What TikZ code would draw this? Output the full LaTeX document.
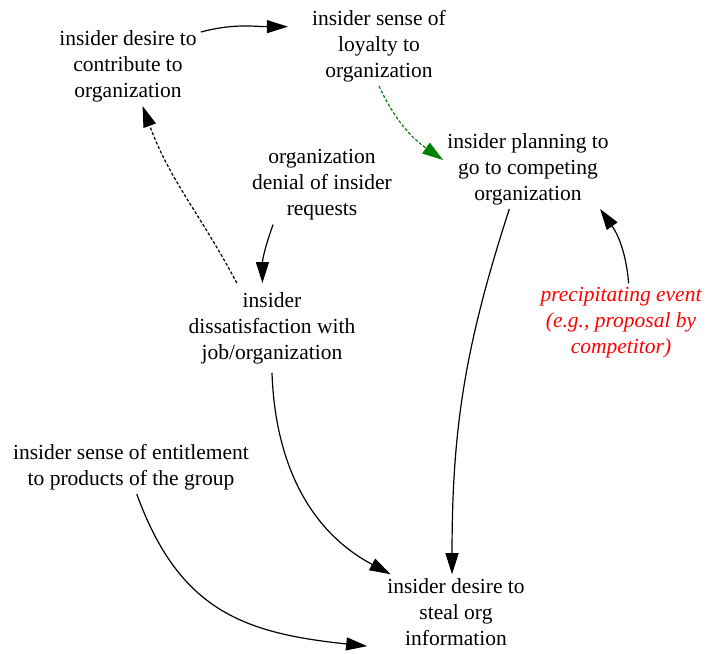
\documentclass[tikz,border=0pt]{standalone}
\usepackage{fontspec}
\setmainfont{Liberation Serif}
\usetikzlibrary{arrows.meta}
\definecolor{dkgreen}{RGB}{0,128,0}

\begin{document}
\begin{tikzpicture}[x=1pt,y=-1pt,>={Triangle[length=21pt,width=13pt]}]

        \useasboundingbox (0,0) rectangle (713,654);

        \begin{scope}[every node/.style={align=center, inner sep=4pt, font=\fontsize{21.5}{26}\selectfont}]
          \node (contrib)  at (128,66)  {insider desire to\\contribute to\\organization};
          \node[inner xsep=24pt] (loyalty) at (379,46) {insider sense of\\loyalty to\\organization};
          \node (plan)     at (528,169) {insider planning to\\go to competing\\organization};
          \node (denial)   at (322,185) {organization\\denial of insider\\requests};
          \node[inner ysep=9pt] (dissat) at (272,328) {insider\\dissatisfaction with\\job/organization};
          \node[text=red, font=\fontsize{21.5}{26}\selectfont\itshape] (event) at (621,323) {precipitating event\\(e.g., proposal by\\competitor)};
          \node (entitle)  at (131,467) {insider sense of entitlement\\to products of the group};
          \node[inner xsep=20pt] (steal) at (456,612) {insider desire to\\steal org\\information};
        \end{scope}

        \begin{scope}[every edge/.style={draw, ->, line width=1.2pt}]
            \path (contrib.25)    edge[out=15, in=180] (loyalty.168);
            \path (loyalty.south) edge[dkgreen, dash pattern=on 3pt off 2pt, out=-65, in=145] (plan.174);
            \path (dissat.128)    edge[dash pattern=on 3pt off 2pt, out=118, in=290] (contrib.290);
            \path (denial.219)    edge[out=250, in=90] (dissat.102);
            \path (plan.245)      edge[out=252, in=90] (steal.96);
            \path (event.79)      edge[out=95, in=305] (plan.331);
            \path (dissat.south)  edge[out=272, in=152] (steal.150);
            \path (entitle.282)   edge[out=290, in=174, looseness=1.15] (steal.201);
        \end{scope}

      \end{tikzpicture}
\end{document}
